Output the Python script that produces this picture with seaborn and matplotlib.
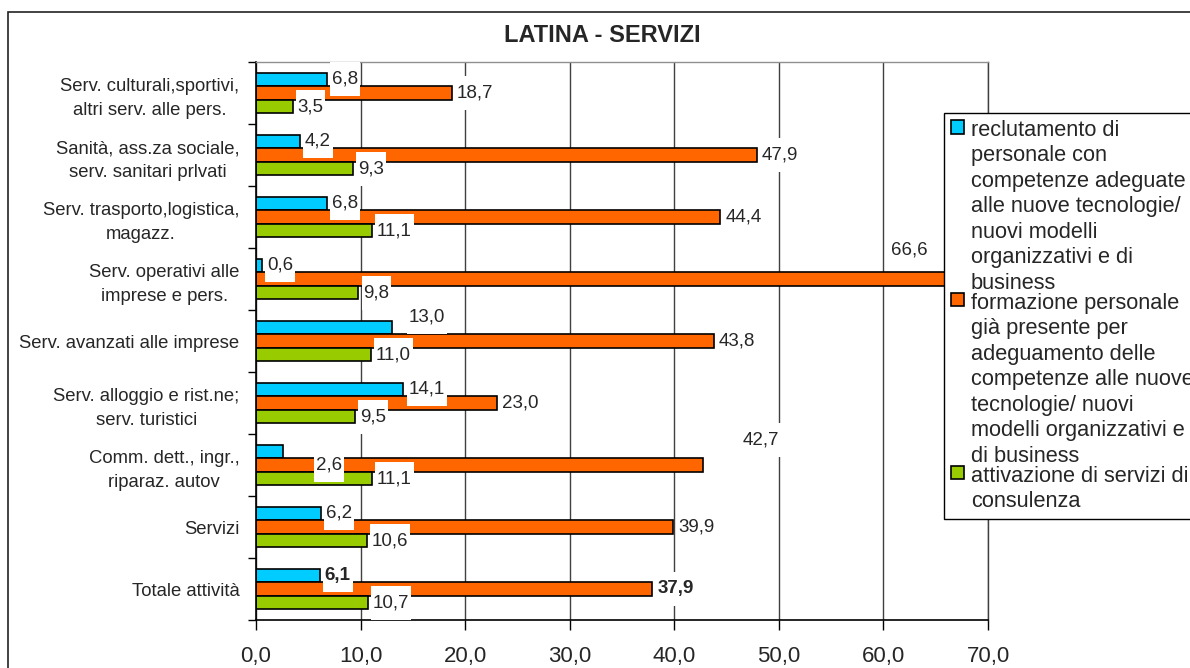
import numpy as np
import pandas as pd
import matplotlib
matplotlib.use("Agg")
import matplotlib.pyplot as plt
import seaborn as sns
from matplotlib.path import Path
from matplotlib.patches import Patch, Rectangle
from matplotlib.ticker import FuncFormatter

# ---------------- data ----------------
categories = [
    "Serv. culturali,sportivi,\naltri serv. alle pers.",
    "Sanità, ass.za sociale,\nserv. sanitari prlvati",
    "Serv. trasporto,logistica,\nmagazz.",
    "Serv. operativi alle\nimprese e pers.",
    "Serv. avanzati alle imprese",
    "Serv. alloggio e rist.ne;\nserv. turistici",
    "Comm. dett., ingr.,\nriparaz. autov",
    "Servizi",
    "Totale attività",
]
series_names = [
    "reclutamento di\npersonale con\ncompetenze adeguate\nalle nuove tecnologie/\nnuovi modelli\norganizzativi e di\nbusiness",
    "formazione personale\ngià presente per\nadeguamento delle\ncompetenze alle nuove\ntecnologie/ nuovi\nmodelli organizzativi e\ndi business",
    "attivazione di servizi di\nconsulenza",
]
reclutamento = [6.8, 4.2, 6.8, 0.6, 13.0, 14.1, 2.6, 6.2, 6.1]
formazione = [18.7, 47.9, 44.4, 66.6, 43.8, 23.0, 42.7, 39.9, 37.9]
consulenza = [3.5, 9.3, 11.1, 9.8, 11.0, 9.5, 11.1, 10.6, 10.7]
x_ticks = [0, 10, 20, 30, 40, 50, 60, 70]
title = "LATINA - SERVIZI"

# ---------------- style ----------------
colors = ["#00CCFF", "#FF6600", "#99CC00"]
sns.set_style("white")
plt.rcParams["font.family"] = ["Liberation Sans", "DejaVu Sans"]

W, H = 1190, 668
fig = plt.figure(figsize=(W / 100, H / 100), dpi=100)
ax = fig.add_axes([256 / W, 1 - 620 / H, 732 / W, 558 / H])

rows = []
for name, vals in zip(series_names, [reclutamento, formazione, consulenza]):
    for cat, v in zip(categories, vals):
        rows.append({"category": cat, "series": name, "value": v})
df = pd.DataFrame(rows)

sns.barplot(data=df, x="value", y="category", hue="series", order=categories,
            hue_order=series_names, orient="h", palette=colors, saturation=1,
            width=0.66, edgecolor="black", linewidth=1.2, errorbar=None,
            legend=False, ax=ax)

ax.set_xlim(0, 70)
ax.set_ylim(8.5, -0.5)
ax.set_xticks(x_ticks)
ax.xaxis.set_major_formatter(FuncFormatter(lambda v, p: f"{v:.1f}".replace(".", ",")))
ax.set_xlabel("")
ax.set_ylabel("")
ax.tick_params(axis="x", labelsize=16, length=7, width=1, color="black",
               direction="out", pad=12, bottom=True)
ax.set_yticks(range(len(categories)))
ax.set_yticklabels(categories, fontsize=13.3)
for lab in ax.get_yticklabels():
    lab.set_multialignment("center")
    lab.set_linespacing(1.55)
ax.tick_params(axis="y", which="major", length=0, pad=12, left=True)
ax.set_yticks(np.arange(-0.5, len(categories), 1), minor=True)
ax.tick_params(axis="y", which="minor", length=6, width=1, color="black",
               direction="out", left=True)

ax.grid(axis="x", color="#404040", lw=1)
ax.grid(axis="y", visible=False)
ax.set_axisbelow(True)
for s in ["left", "bottom"]:
    ax.spines[s].set_color("black")
    ax.spines[s].set_linewidth(1.2)
ax.spines["top"].set_color("#909090")
ax.spines["top"].set_linewidth(1)
ax.spines["right"].set_color("#404040")
ax.spines["right"].set_linewidth(1)


def label_box(x0, y0, width, height, mutation_size):
    px = 0.1 * mutation_size
    py = 0.45 * mutation_size
    xa, xb = x0 - px, x0 + width + px
    ya, yb = y0 - py, y0 + height + py
    return Path([(xa, ya), (xb, ya), (xb, yb), (xa, yb), (xa, ya)], closed=True)


label_shift = {(3, 1): (-44.6, 20.9), (4, 0): (12.2, 7.2),
               (6, 0): (23.8, -10.1), (6, 1): (28.8, 18.0)}
bold_labels = {(8, 0), (8, 1)}

for si, cont in enumerate(ax.containers):
    vals = [reclutamento, formazione, consulenza][si]
    texts = [f"{v:.1f}".replace(".", ",") for v in vals]
    anns = ax.bar_label(cont, labels=texts, padding=3.6, fontsize=13.5,
                        bbox=dict(boxstyle=label_box, fc="white", ec="none"),
                        zorder=4)
    for ci, ann in enumerate(anns):
        if (ci, si) in label_shift:
            ann.xyann = label_shift[(ci, si)]
        if (ci, si) in bold_labels:
            ann.set_fontweight("bold")

handles = [Patch(facecolor=c, edgecolor="black", lw=1.2) for c in colors]
leg = fig.legend(handles, series_names, loc="upper left",
                 bbox_to_anchor=(944 / W, 1 - 113 / H), fontsize=15.7,
                 frameon=True, fancybox=False, framealpha=1, edgecolor="black",
                 borderpad=0.32, handlelength=0.58, handleheight=0.58,
                 handletextpad=0.34, labelspacing=-0.05, borderaxespad=0)
leg.get_frame().set_linewidth(1.0)
for t in leg.get_texts():
    t.set_linespacing(1.28)
try:
    for col in leg._legend_handle_box.get_children():
        for row in col.get_children():
            row.align = "top"
except Exception:
    pass

fig.text(602 / W, 1 - 35 / H, title, ha="center", va="center",
         fontsize=17, fontweight="bold")
fig.patches.append(Rectangle((8 / W, -0.05), 1.2, 1 - 12 / H + 0.05,
                             transform=fig.transFigure, fill=False,
                             ec="#222222", lw=1.2))

fig.savefig("out.png", dpi=100)
